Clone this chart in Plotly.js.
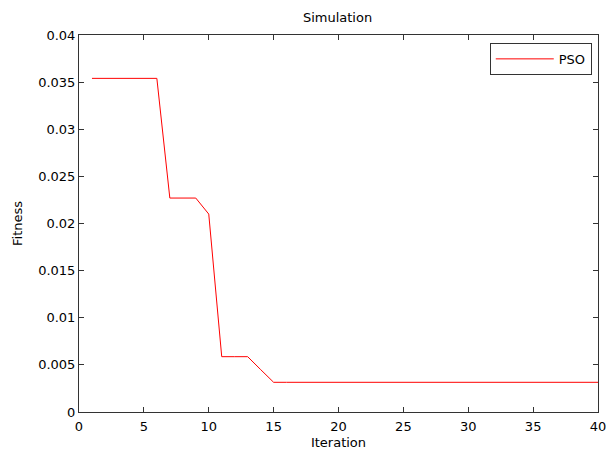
<!DOCTYPE html>
<html><head><meta charset="utf-8">
<script src="https://cdn.plot.ly/plotly-3.0.1.min.js"></script>
<style>body{margin:0;padding:0;background:#fff}#chart{width:606px;height:450px}</style>
</head><body><div id="chart"></div>
<script>
const iterations = [1,2,3,4,5,6,7,8,9,10,11,12,13,14,15,16,17,18,19,20,21,22,23,24,25,26,27,28,29,30,31,32,33,34,35,36,37,38,39,40];
const fitness = [0.0354,0.0354,0.0354,0.0354,0.0354,0.0354,0.0227,0.0227,0.0227,0.0210,0.00587,0.00587,0.00587,0.0045,0.00315,0.00315,0.00315,0.00315,0.00315,0.00315,0.00315,0.00315,0.00315,0.00315,0.00315,0.00315,0.00315,0.00315,0.00315,0.00315,0.00315,0.00315,0.00315,0.00315,0.00315,0.00315,0.00315,0.00315,0.00315,0.00315];
const xTicks = [0,5,10,15,20,25,30,35,40];
const yTicks = [0,0.005,0.01,0.015,0.02,0.025,0.03,0.035,0.04];
const yTickText = ['0','0.005','0.01','0.015','0.02','0.025','0.03','0.035','0.04'];
const font = {family:'DejaVu Sans, sans-serif', size:13, color:'#000'};
const axisCommon = {showline:true, linecolor:'#333', linewidth:1, mirror:'ticks', ticks:'inside', ticklen:5, tickcolor:'#333', showgrid:false, zeroline:false, tickfont:font, ticklabeloverflow:'allow'};
Plotly.newPlot('chart', [{x:iterations, y:fitness, type:'scatter', mode:'lines', name:'PSO', line:{color:'#ff0000', width:1}}], {
  width:606, height:450,
  margin:{l:79, r:8, t:35, b:38},
  paper_bgcolor:'#fff', plot_bgcolor:'#fff',
  font: font,
  title:{text:'Simulation', font:font, x:0.557, xanchor:'center', y:0.962, yanchor:'middle'},
  xaxis:Object.assign({}, axisCommon, {range:[0,40], tickvals:xTicks, ticklabelstandoff:2, title:{text:'Iteration', font:font, standoff:6}}),
  yaxis:Object.assign({}, axisCommon, {range:[0,0.04], tickvals:yTicks, ticktext:yTickText, title:{text:'Fitness', font:font, standoff:12}}),
  showlegend:true,
  legend:{x:0.988, xanchor:'right', y:0.979, yanchor:'top', bordercolor:'#333', borderwidth:1, bgcolor:'#fff', font:font, itemwidth:58},
}, {displayModeBar:false, staticPlot:true});
</script></body></html>
